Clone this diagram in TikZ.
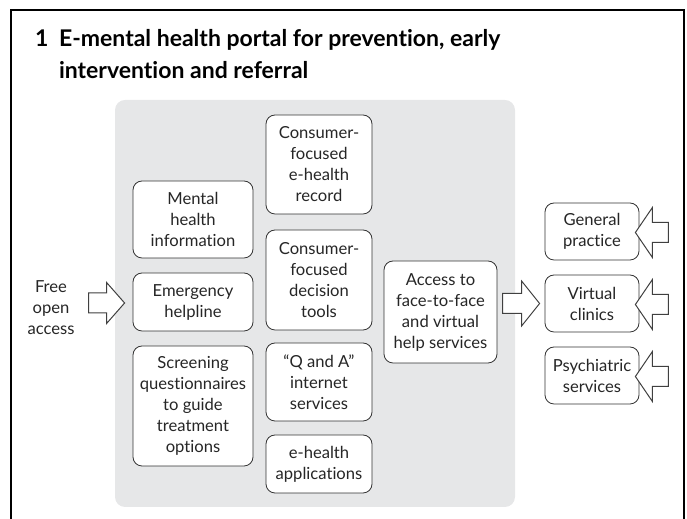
\documentclass[tikz,border=0pt]{standalone}
\usepackage{fontspec}
\setmainfont{Lato}[Ligatures=NoCommon]
\usepackage{xcolor}
\usetikzlibrary{positioning, calc}

\definecolor{panelgray}{RGB}{230,231,232}

\tikzset{
  item/.style={draw=black!80, fill=white, rounded corners=4.5pt, align=center,
    inner sep=1pt, text=black!85, font=\fontsize{8.3}{10.5}\selectfont},
  hollow/.style={draw=black!75, fill=white, line width=0.5pt, line join=miter},
  heading/.style={anchor=base west, font=\bfseries\fontsize{11.5}{16}\selectfont},
}

% hollow block arrow: tip, direction, length, head length, head half width
\newcommand{\hollowarrow}[5]{%
  \begin{scope}[shift={(#1)}, xscale=#2]
    \draw[hollow] (0,0) -- (-#4,#5) -- (-#4,10) -- (-#3,10) -- (-#3,-10)
      -- (-#4,-10) -- (-#4,-#5) -- cycle;
  \end{scope}}

\begin{document}
\begin{tikzpicture}[x=0.5pt, y=0.5pt]
  \useasboundingbox (0,0) rectangle (687,519);

  % Rahmen
  \draw[line width=1pt] (11,0) -- (11,509) -- (684,509) -- (684,0);

  % Titel
  \node[heading] at (28,472) {1};
  \node[heading] at (52,472) {E-mental health portal for prevention, early};
  \node[heading] at (52,440) {intervention and referral};

  % Portal
  \fill[panelgray, rounded corners=5pt] (115,12) rectangle (515,419);

  % erste Spalte
  \node[item, minimum width=60pt, minimum height=38.5pt] (info) at (193,299.5)
    {Mental\\health\\information};
  \node[item, minimum width=60pt, minimum height=29pt] (emerg) at (193,217)
    {Emergency\\helpline};
  \node[item, minimum width=60pt, minimum height=60pt] (screen) at (193,113)
    {Screening\\questionnaires\\to guide\\treatment\\options};

  % zweite Spalte
  \node[item, minimum width=53pt, minimum height=49.5pt] (record) at (319,354.5)
    {Consumer-\\focused\\e-health\\record};
  \node[item, minimum width=53pt, minimum height=50pt] (decision) at (319,239)
    {Consumer-\\focused\\decision\\tools};
  \node[item, minimum width=53pt, minimum height=39pt] (qanda) at (319,137)
    {“Q and A”\\internet\\services};
  \node[item, minimum width=53pt, minimum height=29pt] (apps) at (319,55)
    {e-health\\applications};

  % Zugang
  \node[item, minimum width=56.5pt, minimum height=51pt] (access) at (440.5,207)
    {Access to\\face-to-face\\and virtual\\help services};

  % Dienste
  \node[item, minimum width=47pt, minimum height=28.5pt] (gp) at (592,287.5)
    {General\\practice};
  \node[item, minimum width=47pt, minimum height=28.5pt] (virtual) at (592,215.5)
    {Virtual\\clinics};
  \node[item, minimum width=47pt, minimum height=28.5pt] (psych) at (592,143.5)
    {Psychiatric\\services};

  % freier Zugang
  \node[align=center, text=black!85, font=\fontsize{8.3}{10.5}\selectfont] (free) at (51,211)
    {Free\\open\\access};

  % Pfeile
  \hollowarrow{$(emerg.west)+(-8,-1)$}{1}{36}{18}{20.5}
  \hollowarrow{$(virtual.west)+(-5,0)$}{1}{37}{18}{22.5}
  \hollowarrow{$(gp.east)+(-4,-1)$}{-1}{33}{17}{25}
  \hollowarrow{$(virtual.east)+(-4,-1)$}{-1}{33}{17}{25}
  \hollowarrow{$(psych.east)+(-4,-1)$}{-1}{33}{17}{25}
\end{tikzpicture}
\end{document}
